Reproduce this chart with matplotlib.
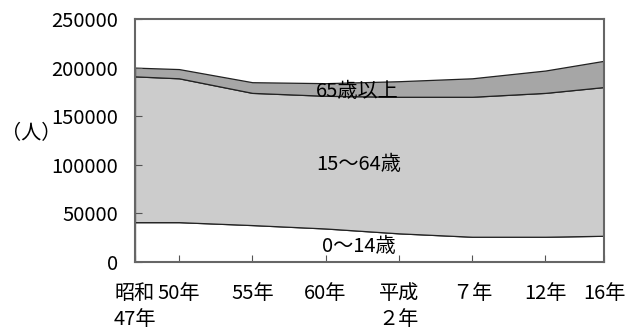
import matplotlib.pyplot as plt

plt.rcParams['font.family'] = ['Noto Sans CJK JP', 'DejaVu Sans']

# 年（西暦）と表示ラベル
years = [1972, 1975, 1980, 1985, 1990, 1995, 2000, 2004]
year_labels = ["昭和\n47年", "50年", "55年", "60年", "平成\n２年", "７年", "12年", "16年"]

# 年齢階層別人口（人）
age_0_14 = [41000, 41000, 38000, 34500, 29500, 26000, 26000, 27000]
age_15_64 = [150000, 148000, 136000, 136500, 140500, 144000, 148000, 153000]
age_65_over = [9000, 9500, 11000, 13000, 16000, 19000, 23000, 27000]

FS = 14.5


def main():
    fig = plt.figure(figsize=(6.27, 3.29), dpi=100)
    ax = fig.add_axes([0.2153, 0.2036, 0.748, 0.7386])

    ax.stackplot(years, age_0_14, age_15_64, age_65_over,
                 colors=["white", "#cccccc", "#a6a6a6"],
                 edgecolor="#222222", linewidth=0.9)

    ax.set_xlim(years[0], years[-1])
    ax.set_ylim(0, 250000)
    ax.set_yticks(range(0, 250001, 50000))
    ax.set_xticks(years)
    ax.set_xticklabels(year_labels, fontsize=FS, linespacing=1.35)
    ax.tick_params(axis="y", labelsize=FS, direction="in", length=5, pad=12, color="#555555")
    ax.tick_params(axis="x", direction="in", length=5, pad=15, color="#555555")
    for s in ax.spines.values():
        s.set_color("#666666")
        s.set_linewidth(1.5)

    ax.text(1984.35, 175000, "65歳以上", fontsize=FS, ha="left", va="center")
    ax.text(1984.35, 100000, "15～64歳", fontsize=FS, ha="left", va="center")
    ax.text(1984.75, 15500, "0～14歳", fontsize=FS, ha="left", va="center")

    fig.text(0.05, 0.595, "（人）", fontsize=FS, ha="center", va="center")

    fig.savefig("out.png", dpi=100)


if __name__ == '__main__':
    main()
